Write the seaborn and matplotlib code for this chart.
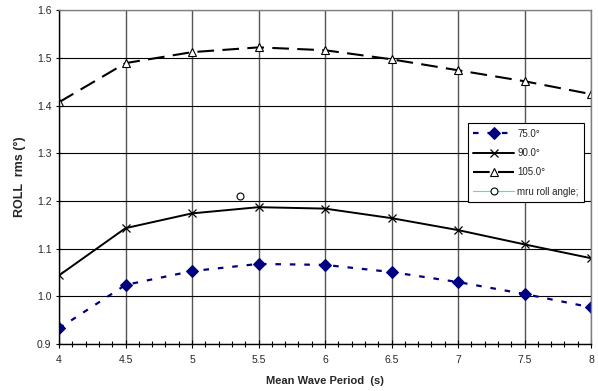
import pandas as pd
import matplotlib.pyplot as plt
import seaborn as sns
from matplotlib.ticker import MultipleLocator

sns.set_theme(style="white")
plt.rcParams['font.family'] = ['Liberation Sans', 'DejaVu Sans']

# Dados
periodo = [4.0, 4.5, 5.0, 5.5, 6.0, 6.5, 7.0, 7.5, 8.0]
roll_75 = [0.933, 1.024, 1.053, 1.068, 1.066, 1.051, 1.030, 1.005, 0.977]
roll_90 = [1.044, 1.143, 1.174, 1.187, 1.184, 1.164, 1.139, 1.109, 1.080]
roll_105 = [1.407, 1.489, 1.512, 1.522, 1.516, 1.497, 1.474, 1.451, 1.424]
mru_x = [5.36]
mru_y = [1.210]

df = pd.DataFrame({'periodo': periodo, 'r75': roll_75, 'r90': roll_90, 'r105': roll_105})
df_mru = pd.DataFrame({'periodo': mru_x, 'roll': mru_y})

fig = plt.figure(figsize=(5.98, 3.91), dpi=100)
ax = fig.add_axes([0.0987, 0.120, 0.8896, 0.854])

sns.lineplot(data=df, x='periodo', y='r75', ax=ax, color='#000080', lw=1.6,
             marker='D', markersize=6.5, markeredgecolor='#000080',
             label='75.0°').lines[-1].set_dashes((2.5, 4))
sns.lineplot(data=df, x='periodo', y='r90', ax=ax, color='black', lw=1.4,
             marker='x', markersize=5.5, markeredgecolor='black',
             markeredgewidth=0.9, label='90.0°')
l105 = sns.lineplot(data=df, x='periodo', y='r105', ax=ax, color='black', lw=1.5,
                    marker='^', markersize=6, markerfacecolor='white',
                    markeredgecolor='black', markeredgewidth=0.8, label='105.0°').lines[-1]
l105.set_dashes((8, 4))
sns.lineplot(data=df_mru, x='periodo', y='roll', ax=ax, color='cyan', lw=0.8,
             marker='o', markersize=5, markerfacecolor='white',
             markeredgecolor='black', markeredgewidth=0.8, label='mru roll angle;')

ax.set_xlim(4, 8)
ax.set_ylim(0.9, 1.6)
ax.xaxis.set_minor_locator(MultipleLocator(0.1))
ax.set_xticks([4, 4.5, 5, 5.5, 6, 6.5, 7, 7.5, 8])
ax.set_xticklabels(['4', '4.5', '5', '5.5', '6', '6.5', '7', '7.5', '8'])
ax.set_yticks([0.9, 1.0, 1.1, 1.2, 1.3, 1.4, 1.5, 1.6])
ax.set_yticklabels(['0.9', '1.0', '1.1', '1.2', '1.3', '1.4', '1.5', '1.6'])

ax.grid(axis='x', which='major', color='#555555', lw=1.0)
ax.grid(axis='y', which='major', color='black', lw=0.8)
ax.set_axisbelow(True)

ax.tick_params(axis='x', which='major', direction='inout', length=6, width=0.8,
               bottom=True, labelsize=7.5, pad=5, color='black')
ax.tick_params(axis='x', which='minor', direction='inout', length=4, width=0.8,
               bottom=True, color='black')
ax.tick_params(axis='y', which='major', direction='inout', length=5, width=0.8,
               left=True, labelsize=7.5, pad=3, color='black')

for s in ['top', 'right']:
    ax.spines[s].set_color('#808080')
    ax.spines[s].set_linewidth(1.0)
for s in ['left', 'bottom']:
    ax.spines[s].set_color('black')
    ax.spines[s].set_linewidth(1.0)

ax.set_xlabel('Mean Wave Period  (s)', fontsize=8, fontweight='bold', labelpad=8)
ax.set_ylabel('ROLL  rms (°)', fontsize=9, fontweight='bold', labelpad=8)

leg = ax.legend(loc='upper left', bbox_to_anchor=(0.768, 0.662), fontsize=7,
                frameon=True, fancybox=False, edgecolor='black', framealpha=1,
                handlelength=4.2, handletextpad=0.3, borderpad=0.6,
                labelspacing=0.95, borderaxespad=0)
leg.get_frame().set_linewidth(0.8)

plt.savefig('out.png', dpi=100)
